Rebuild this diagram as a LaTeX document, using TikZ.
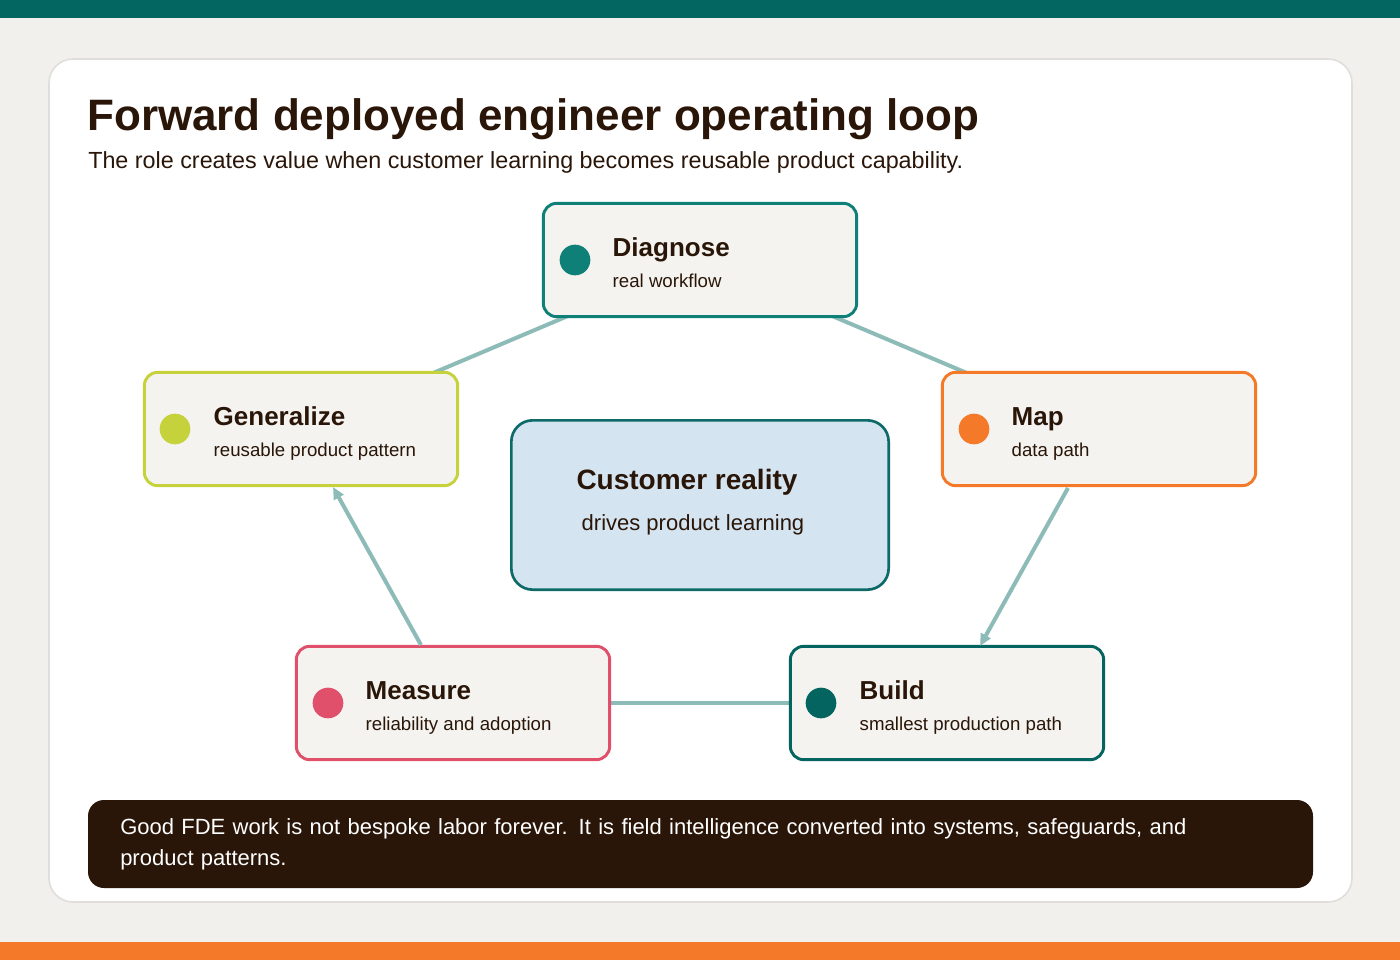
\documentclass[tikz,border=0pt]{standalone}
\usepackage{fontspec}
\setmainfont{Liberation Sans}
\usetikzlibrary{arrows.meta}
\definecolor{teal}{HTML}{036660}
\definecolor{bg}{HTML}{F2F0ED}
\definecolor{cardb}{HTML}{E0DEDB}
\definecolor{cdiag}{HTML}{0E8078}
\definecolor{cmap}{HTML}{F47A2A}
\definecolor{cbuild}{HTML}{046560}
\definecolor{cmeas}{HTML}{E0506A}
\definecolor{cgen}{HTML}{C5D23C}
\definecolor{cfill}{HTML}{D4E4F0}
\definecolor{cbord}{HTML}{0E6A68}
\definecolor{foot}{HTML}{2A1608}
\definecolor{lin}{HTML}{8DBBB8}
\definecolor{boxf}{HTML}{F4F3F0}
\definecolor{ink}{HTML}{2A1608}
\tikzset{
 step/.style={draw=#1,line width=2.2pt,fill=boxf,rounded corners=10pt,minimum width=235pt,minimum height=85pt},
 dot/.style={circle,fill=#1,minimum size=23pt,inner sep=0pt},
 ttl/.style={anchor=base west,font=\fontsize{19.5}{22}\selectfont\bfseries,text=ink},
 sub/.style={anchor=base west,font=\fontsize{14}{17}\selectfont,text=ink},
 link/.style={draw=lin,line width=3pt},
 arr/.style={link,-{Triangle[length=9pt,width=8pt]}}
}
\begin{document}
\begin{tikzpicture}[x=0.75pt,y=-0.75pt]
\useasboundingbox (0,0) rectangle (1400,960);
\fill[bg] (0,0) rectangle (1400,960);
\fill[teal] (0,0) rectangle (1400,18);
\fill[cmap] (0,942) rectangle (1400,960);
\draw[cardb,fill=white,line width=1.2pt,rounded corners=18pt] (49,59) rectangle (1352,902);
\node[anchor=base west,font=\fontsize{33}{38}\selectfont\bfseries,text=ink,inner sep=0] (title) at (87,130) {Forward deployed engineer operating loop};
\node[anchor=base west,font=\fontsize{17.5}{21}\selectfont,text=ink,inner sep=0] (subt) at (88,168) {The role creates value when customer learning becomes reusable product capability.};
% centres
\coordinate (Dc) at (700,260); \coordinate (Mc) at (1099,429); \coordinate (Bc) at (947,703);
\coordinate (Ec) at (453,703); \coordinate (Gc) at (301,429);
\draw[link] (Dc) -- (Mc);
\draw[link] (Bc) -- (Ec);
\draw[link] (Gc) -- (Dc);
\node[step=cdiag] (D) at (Dc) {};
\node[step=cmap] (M) at (Mc) {};
\node[step=cbuild] (B) at (Bc) {};
\node[step=cmeas] (E) at (Ec) {};
\node[step=cgen] (G) at (Gc) {};
\draw[arr] (1068,488) -- (980,646);
\draw[arr] (421,645) -- (333,487);
\node[draw=cbord,fill=cfill,line width=2pt,rounded corners=16pt,minimum width=283pt,minimum height=127pt] (C) at (700,505) {};
\node[anchor=base,font=\fontsize{21}{25}\selectfont\bfseries,text=ink] (ct) at (687,489) {Customer reality};
\node[anchor=base,font=\fontsize{16.5}{20}\selectfont,text=ink] (cs) at (693,530) {drives product learning};
\node[dot=cdiag] (dd) at (575,260) {};
\node[ttl] (dt) at (608,256) {Diagnose};
\node[sub] (ds) at (608,287) {real workflow};
\node[dot=cmap] (md) at (974,429) {};
\node[ttl] (mt) at (1007,425) {Map};
\node[sub] (ms) at (1007,456) {data path};
\node[dot=cbuild] (bd) at (821,703) {};
\node[ttl] (bt) at (855,699) {Build};
\node[sub] (bs) at (855,730) {smallest production path};
\node[dot=cmeas] (ed) at (328,703) {};
\node[ttl] (et) at (361,699) {Measure};
\node[sub] (es) at (361,730) {reliability and adoption};
\node[dot=cgen] (gd) at (175,429) {};
\node[ttl] (gt) at (209,425) {Generalize};
\node[sub] (gs) at (209,456) {reusable product pattern};
\fill[foot,rounded corners=12pt] (88,800) rectangle (1313,888);
\node[anchor=north west,text width=840pt,align=left,font=\fontsize{16.5}{23.5}\selectfont,text=white,inner sep=0] (ft) at (120,818) {Good FDE work is not bespoke labor forever. It is field intelligence converted into systems, safeguards, and product patterns.};
\end{tikzpicture}
\end{document}
